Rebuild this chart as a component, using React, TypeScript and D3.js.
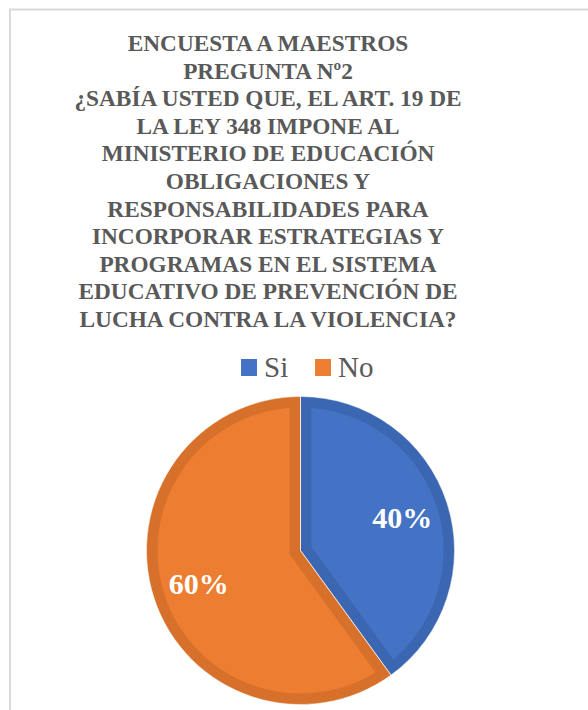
import React from "react";
import * as d3 from "d3";

const titleLines = [
  "ENCUESTA A MAESTROS",
  "PREGUNTA Nº2",
  "¿SABÍA USTED QUE, EL ART. 19 DE",
  "LA LEY 348 IMPONE AL",
  "MINISTERIO DE EDUCACIÓN",
  "OBLIGACIONES Y",
  "RESPONSABILIDADES PARA",
  "INCORPORAR ESTRATEGIAS Y",
  "PROGRAMAS EN EL SISTEMA",
  "EDUCATIVO DE PREVENCIÓN DE",
  "LUCHA CONTRA LA VIOLENCIA?",
];
const categories = ["Si", "No"];
const values = [40, 60];
const fills = ["#4472C4", "#ED7D31"];
const edges = ["#3B66B2", "#D6702B"];

const W = 588;
const H = 710;
const cx = 300.5;
const cy = 550.5;
const R = 154;
const FONT = 'Tinos, "Liberation Serif", "Times New Roman", FreeSerif, "DejaVu Serif", serif';

export default function App() {
  const data = categories.map((c, i) => ({ c, v: values[i], i }));
  const pie = d3.pie<any>().sort(null).value((d) => d.v).startAngle(0).endAngle(2 * Math.PI);
  const arcs = pie(data);
  const arc = d3.arc<any>().innerRadius(0).outerRadius(R);
  const labelArc = d3.arc<any>().innerRadius(107).outerRadius(107);
  const total = d3.sum(values);
  const legendX = d3.scalePoint<string>().domain(categories).range([241, 315]);

  return (
    <div style={{ position: "absolute", left: 0, top: 0 }}>
      <svg width={W} height={H}>
        <rect x={0} y={0} width={W} height={H} fill="#fff" />
        <line x1={9} y1={9.5} x2={W} y2={9.5} stroke="#d9d9d9" strokeWidth={2} />
        <line x1={10} y1={9} x2={10} y2={H} stroke="#d9d9d9" strokeWidth={2} />

        {titleLines.map((t, i) => (
          <text
            key={i}
            x={268}
            y={51 + i * 27.6}
            textAnchor="middle"
            style={{ fontFamily: FONT, fontSize: "23.3px", fontWeight: 700 }}
            fill="#595959"
          >
            {t}
          </text>
        ))}

        {categories.map((c, i) => (
          <g key={c}>
            <rect x={legendX(c)} y={359} width={16} height={17} fill={fills[i]} />
            <text
              x={(legendX(c) as number) + 23}
              y={377}
              style={{ fontFamily: FONT, fontSize: "29px", fontWeight: 400 }}
              fill="#595959"
            >
              {c}
            </text>
          </g>
        ))}

        <defs>
          {arcs.map((a, i) => (
            <clipPath key={i} id={`clip-${i}`}>
              <path d={arc(a) as string} transform={`translate(${cx},${cy})`} />
            </clipPath>
          ))}
        </defs>

        <g>
          {arcs.map((a, i) => (
            <g key={i} clipPath={`url(#clip-${i})`}>
              <path
                d={arc(a) as string}
                transform={`translate(${cx},${cy})`}
                fill={fills[i]}
                stroke={edges[i]}
                strokeWidth={22}
              />
            </g>
          ))}
          {arcs.map((a, i) => (
            <path
              key={"o" + i}
              d={arc(a) as string}
              transform={`translate(${cx},${cy})`}
              fill="none"
              stroke="#ffffff"
              strokeWidth={0.8}
              strokeOpacity={0.7}
            />
          ))}
        </g>

        {arcs.map((a, i) => {
          const [lx, ly] = labelArc.centroid(a);
          return (
            <text
              key={"l" + i}
              x={cx + lx}
              y={cy + ly + 10.5}
              textAnchor="middle"
              style={{ fontFamily: FONT, fontSize: "30px", fontWeight: 700 }}
              fill="#ffffff"
            >
              {`${Math.round((a.data.v / total) * 100)}%`}
            </text>
          );
        })}
      </svg>
    </div>
  );
}
